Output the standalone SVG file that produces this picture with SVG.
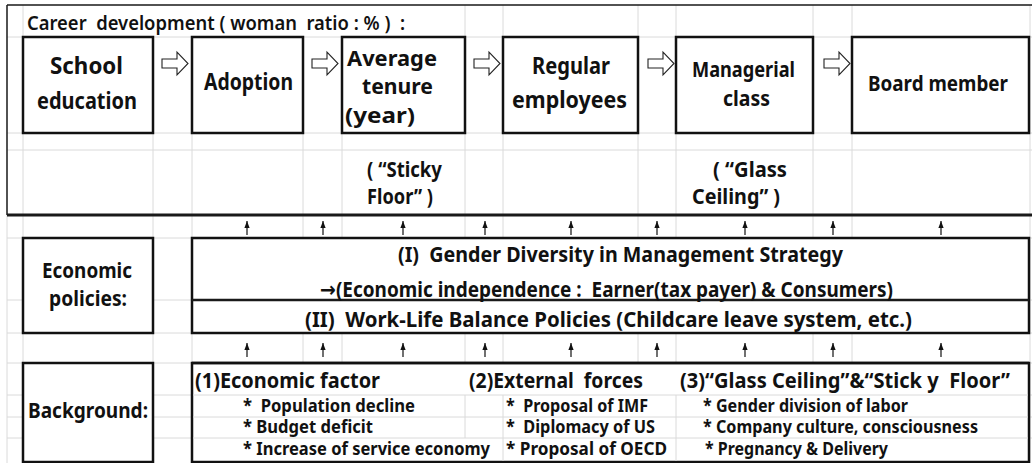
<svg xmlns="http://www.w3.org/2000/svg" width="1032" height="463" viewBox="0 0 1032 463">
  <defs>
    <style>
      text { font-family: "Noto Sans", "Open Sans", "DejaVu Sans", sans-serif; fill: #111; white-space: pre; }
      .t20 { font-size: 20px; font-weight: 600; }
      .t23 { font-size: 23px; font-weight: 700; }
      .t22 { font-size: 22px; font-weight: 700; }
      .t21 { font-size: 21px; font-weight: 700; }
      .t17 { font-size: 17px; font-weight: 700; }
      .grid { stroke: #dadada; stroke-width: 1; fill: none; }
      .box { fill: #fff; stroke: #111; stroke-width: 2.5; }
      .rule { stroke: #1a1a1a; fill: none; }
      .flow { fill: #fff; stroke: #222; stroke-width: 1.1; }
      .up { stroke: #111; stroke-width: 1.2; fill: none; marker-end: url(#head); }
    </style>
    <marker id="head" viewBox="0 0 8 6" refX="8" refY="3" markerWidth="7" markerHeight="5.5" markerUnits="userSpaceOnUse" orient="auto">
      <path d="M0,0 L8,3 L0,6 z" fill="#111"/>
    </marker>
    <!-- hollow block arrow used between career stages -->
    <polygon id="hollow" points="0,-4.5 15,-4.5 15,-11.5 26,0 15,11.5 15,4.5 0,4.5"/>
  </defs>

  <rect width="1032" height="463" fill="#fff"/>

  <!-- sheet gridlines -->
  <g id="grid" class="grid">
    <path d="M7,37H1032 M7,133H1032 M7,150H1032
             M23,5V215 M153,37V215 M192,37V215 M303,37V215 M342,37V215 M465,5V215 M503,5V215
             M638,5V215 M676,5V215 M813,5V215 M852,5V215 M1030,5V215"/>
    <path d="M7,238H1032 M7,300H1032 M7,333H1032 M7,363H1032 M7,395H1032 M7,417H1032 M7,438H1032
             M7,215V463 M23,215V463 M153,215V463 M192,215V463 M303,215V463 M342,215V463 M465,215V463
             M503,215V463 M638,215V463 M676,215V463 M813,215V463 M852,215V463 M1030,215V463"/>
  </g>

  <!-- frame around the career path -->
  <g id="frame" class="rule">
    <path d="M7,5H1032 M7,5V215" stroke-width="1.5"/>
    <path d="M7,215H1032" stroke-width="3"/>
  </g>

  <text id="title" class="t20" x="27" y="30" textLength="378" lengthAdjust="spacingAndGlyphs">Career  development ( woman  ratio : % )  :</text>

  <!-- career stages -->
  <g id="node-school">
    <rect class="box" x="23" y="37" width="130" height="96"/>
    <text class="t23" x="50" y="74" textLength="73" lengthAdjust="spacingAndGlyphs">School</text>
    <text class="t23" x="37" y="109" textLength="100" lengthAdjust="spacingAndGlyphs">education</text>
  </g>
  <g id="node-adoption">
    <rect class="box" x="192" y="37" width="111" height="96"/>
    <text class="t23" x="204" y="90" textLength="89" lengthAdjust="spacingAndGlyphs">Adoption</text>
  </g>
  <g id="node-tenure">
    <rect class="box" x="342" y="37" width="123" height="96"/>
    <text class="t22" x="347" y="66" textLength="90" lengthAdjust="spacingAndGlyphs">Average</text>
    <text class="t22" x="362" y="94" textLength="71" lengthAdjust="spacingAndGlyphs">tenure</text>
    <text class="t22" x="345" y="123" textLength="70" lengthAdjust="spacingAndGlyphs">(year)</text>
  </g>
  <g id="node-regular">
    <rect class="box" x="503" y="37" width="135" height="96"/>
    <text class="t23" x="532" y="74" textLength="78" lengthAdjust="spacingAndGlyphs">Regular</text>
    <text class="t23" x="512" y="108" textLength="115" lengthAdjust="spacingAndGlyphs">employees</text>
  </g>
  <g id="node-managerial">
    <rect class="box" x="676" y="37" width="137" height="96"/>
    <text class="t22" x="692" y="77" textLength="103" lengthAdjust="spacingAndGlyphs">Managerial</text>
    <text class="t22" x="723" y="106" textLength="47" lengthAdjust="spacingAndGlyphs">class</text>
  </g>
  <g id="node-board">
    <rect class="box" x="852" y="37" width="177" height="96"/>
    <text class="t22" x="868" y="91" textLength="140" lengthAdjust="spacingAndGlyphs">Board member</text>
  </g>

  <!-- barrier notes under the stages -->
  <g id="note-sticky">
    <text class="t21" x="367" y="177" textLength="75" lengthAdjust="spacingAndGlyphs">( “Sticky</text>
    <text class="t21" x="367" y="204" textLength="66" lengthAdjust="spacingAndGlyphs">Floor” )</text>
  </g>
  <g id="note-glass">
    <text class="t21" x="713" y="177" textLength="74" lengthAdjust="spacingAndGlyphs">( “Glass</text>
    <text class="t21" x="692" y="204" textLength="88" lengthAdjust="spacingAndGlyphs">Ceiling” )</text>
  </g>

  <!-- policy layer -->
  <g id="node-policies-label">
    <rect class="box" x="23" y="238" width="130" height="95"/>
    <text class="t22" x="42" y="278" textLength="90" lengthAdjust="spacingAndGlyphs">Economic</text>
    <text class="t22" x="49" y="306" textLength="78" lengthAdjust="spacingAndGlyphs">policies:</text>
  </g>
  <g id="node-policies">
    <rect class="box" x="192" y="238" width="837" height="95"/>
    <path class="rule" d="M192,300H1029" stroke-width="2.5"/>
    <text class="t21" x="398" y="262" textLength="445" lengthAdjust="spacingAndGlyphs">(I)  Gender Diversity in Management Strategy</text>
    <text class="t21" x="320" y="297" textLength="573" lengthAdjust="spacingAndGlyphs">→(Economic independence :  Earner(tax payer) &amp; Consumers)</text>
    <text class="t21" x="305" y="327" textLength="607" lengthAdjust="spacingAndGlyphs">(II)  Work-Life Balance Policies (Childcare leave system, etc.)</text>
  </g>

  <!-- background layer -->
  <g id="node-background-label">
    <rect class="box" x="23" y="363" width="130" height="99"/>
    <text class="t22" x="28" y="418" textLength="120" lengthAdjust="spacingAndGlyphs">Background:</text>
  </g>
  <g id="node-background">
    <rect class="box" x="192" y="363" width="837" height="99"/>
    <path class="grid" d="M193,395H1028 M193,417H1028 M193,438H1028 M465,395V438 M503,395V461 M676,395V461"/>
    <path d="M192,363H1029" stroke="#111" stroke-width="2.5"/>
    <text class="t21" x="195" y="388" textLength="185" lengthAdjust="spacingAndGlyphs">(1)Economic factor</text>
    <text class="t17" x="243" y="412" textLength="172" lengthAdjust="spacingAndGlyphs">*  Population decline</text>
    <text class="t17" x="243" y="433" textLength="130" lengthAdjust="spacingAndGlyphs">* Budget deficit</text>
    <text class="t17" x="243" y="455" textLength="247" lengthAdjust="spacingAndGlyphs">* Increase of service economy</text>
    <text class="t21" x="469" y="388" textLength="174" lengthAdjust="spacingAndGlyphs">(2)External  forces</text>
    <text class="t17" x="506" y="412" textLength="142" lengthAdjust="spacingAndGlyphs">*  Proposal of IMF</text>
    <text class="t17" x="506" y="433" textLength="149" lengthAdjust="spacingAndGlyphs">*  Diplomacy of US</text>
    <text class="t17" x="506" y="455" textLength="161" lengthAdjust="spacingAndGlyphs">* Proposal of OECD</text>
    <text class="t21" x="680" y="388" textLength="330" lengthAdjust="spacingAndGlyphs">(3)“Glass Ceiling”&amp;“Stick y  Floor”</text>
    <text class="t17" x="703" y="412" textLength="205" lengthAdjust="spacingAndGlyphs">* Gender division of labor</text>
    <text class="t17" x="703" y="433" textLength="275" lengthAdjust="spacingAndGlyphs">* Company culture, consciousness</text>
    <text class="t17" x="705" y="455" textLength="183" lengthAdjust="spacingAndGlyphs">* Pregnancy &amp; Delivery</text>
  </g>

  <!-- connectors: stage-to-stage block arrows and upward influence arrows -->
  <g id="connectors">
    <use href="#hollow" class="flow" x="162" y="63.5"/>
    <use href="#hollow" class="flow" x="312" y="63.5"/>
    <use href="#hollow" class="flow" x="474" y="63.5"/>
    <use href="#hollow" class="flow" x="648" y="63.5"/>
    <use href="#hollow" class="flow" x="824" y="63.5"/>
    <path class="up" d="M247,235V221"/>
    <path class="up" d="M323,235V221"/>
    <path class="up" d="M403,235V221"/>
    <path class="up" d="M485,235V221"/>
    <path class="up" d="M571,235V221"/>
    <path class="up" d="M657,235V221"/>
    <path class="up" d="M745,235V221"/>
    <path class="up" d="M833,235V221"/>
    <path class="up" d="M941,235V221"/>
    <path class="up" d="M247,357V343"/>
    <path class="up" d="M323,357V343"/>
    <path class="up" d="M403,357V343"/>
    <path class="up" d="M485,357V343"/>
    <path class="up" d="M571,357V343"/>
    <path class="up" d="M657,357V343"/>
    <path class="up" d="M745,357V343"/>
    <path class="up" d="M833,357V343"/>
    <path class="up" d="M941,357V343"/>
  </g>
</svg>
